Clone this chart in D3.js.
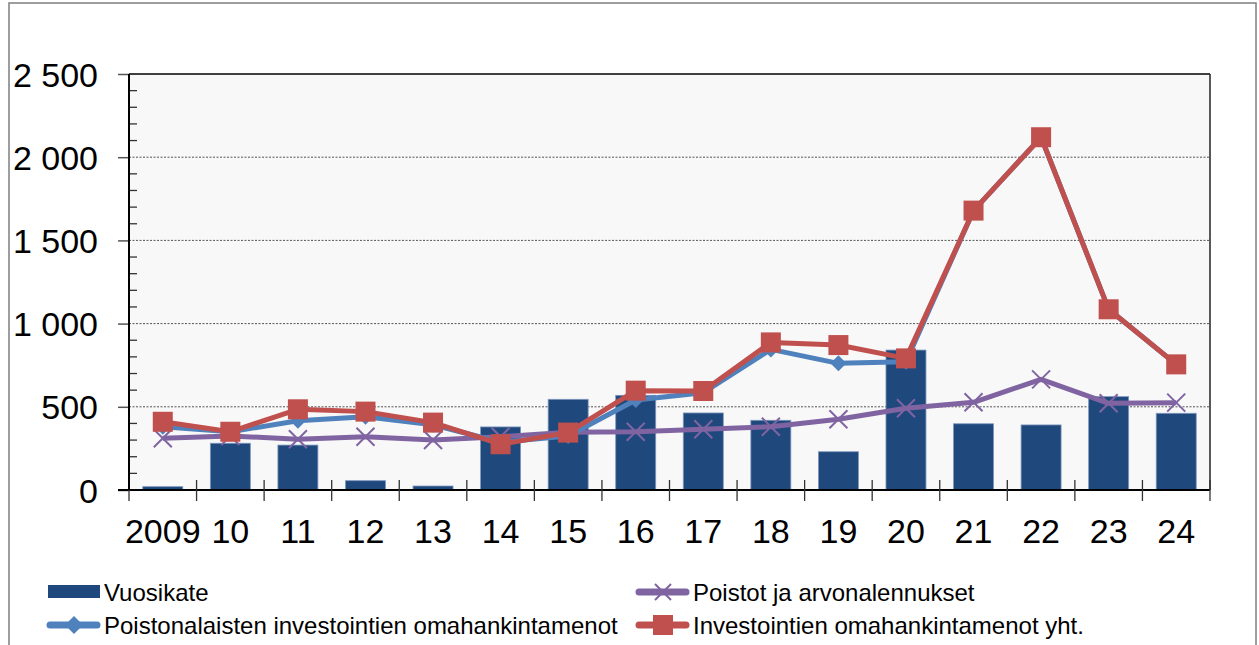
<!DOCTYPE html>
<html><head><meta charset="utf-8">
<script src="https://cdn.jsdelivr.net/npm/d3@7"></script>
<style>body{margin:0;background:#fff}svg{display:block}text{font-family:Arial,"Liberation Sans",sans-serif}</style>
</head><body>
<svg id="c" width="1259" height="645"></svg>
<script>
const categories = ["2009","10","11","12","13","14","15","16","17","18","19","20","21","22","23","24"];
const vuosikate = [20,281,270,56,24,379,545,569,463,419,230,841,398,391,561,461];
const poistot = [311,325,305,320,300,320,347,350,365,380,425,491,527,665,521,525];
const poistonalaiset = [380,350,416,440,392,287,325,541,585,845,761,771,1679,2120,1086,755];
const investoinnit = [410,350,485,471,405,275,345,597,595,887,871,791,1679,2120,1086,755];
const yTicks = [0,500,1000,1500,2000,2500];
const yTickLabels = ["0","500","1 000","1 500","2 000","2 500"];
const seriesNames = ["Vuosikate","Poistot ja arvonalennukset","Poistonalaisten investointien omahankintamenot","Investointien omahankintamenot yht."];

const svg = d3.select("#c");
const L = 129, R = 1210, T = 74, B = 490;
const x = d3.scaleBand().domain(categories).range([L, R]).paddingInner(0).paddingOuter(0);
const y = d3.scaleLinear().domain([0, 2500]).range([B, T]);
const cx = d => x(d) + x.bandwidth() / 2;

// outer border
svg.append("rect").attr("x", 9).attr("y", 3).attr("width", 1247).attr("height", 700)
  .attr("fill", "#fff").attr("stroke", "#7f7f7f").attr("stroke-width", 1.5);

// plot background
svg.append("rect").attr("x", L).attr("y", T).attr("width", R - L).attr("height", B - T).attr("fill", "#f8f8f8");

// gridlines
svg.append("g").selectAll("line").data(yTicks.filter(v => v > 0 && v < 2500)).join("line")
  .attr("x1", L).attr("x2", R).attr("y1", d => y(d)).attr("y2", d => y(d))
  .attr("stroke", "#555").attr("stroke-width", 1).attr("stroke-dasharray", "2,1.5");

// plot border top/right
svg.append("line").attr("x1", L).attr("x2", R).attr("y1", T).attr("y2", T).attr("stroke", "#000").attr("stroke-width", 1.5);
svg.append("line").attr("x1", R).attr("x2", R).attr("y1", T).attr("y2", B).attr("stroke", "#222").attr("stroke-width", 1.5);

// bars
const bw = 40;
svg.append("g").selectAll("rect").data(categories).join("rect")
  .attr("x", (d) => cx(d) - bw / 2).attr("width", bw)
  .attr("y", (d, i) => y(vuosikate[i])).attr("height", (d, i) => y(0) - y(vuosikate[i]))
  .attr("fill", "#1f497d").attr("stroke", "#7f97bd").attr("stroke-width", 0.8);

// y axis
const yAxis = d3.axisLeft(y).tickValues(yTicks).tickSize(11).tickFormat((d, i) => yTickLabels[i]);
const ya = svg.append("g").attr("transform", `translate(${L},0)`).call(yAxis);
ya.select(".domain").remove();
ya.selectAll(".tick line").attr("stroke", "#555").attr("stroke-width", 1.5);
ya.selectAll(".tick text").attr("x", -31).attr("dy", null).attr("dominant-baseline", "central")
  .attr("font-size", 34).attr("fill", "#000").attr("text-anchor", "end");
// minor ticks
const minor = d3.range(0, 2501, 100).filter(v => v % 500 !== 0);
svg.append("g").selectAll("line").data(minor).join("line")
  .attr("x1", L).attr("x2", L + 8).attr("y1", d => y(d)).attr("y2", d => y(d))
  .attr("stroke", "#333").attr("stroke-width", 1.3);
svg.append("line").attr("x1", L).attr("x2", L).attr("y1", T).attr("y2", B).attr("stroke", "#000").attr("stroke-width", 2);

// x axis
svg.append("line").attr("x1", L - 11).attr("x2", R).attr("y1", B).attr("y2", B).attr("stroke", "#000").attr("stroke-width", 2);
const bounds = categories.map(c => x(c)).concat([R]);
svg.append("g").selectAll("line").data(bounds).join("line")
  .attr("x1", d => d).attr("x2", d => d).attr("y1", (d, i) => i === 0 ? B : B - 10).attr("y2", B + 11)
  .attr("stroke", "#333").attr("stroke-width", 1.3);
svg.append("g").selectAll("text").data(categories).join("text")
  .attr("x", d => cx(d)).attr("y", 531)
  .attr("text-anchor", "middle").attr("dominant-baseline", "central")
  .attr("font-size", 34).attr("fill", "#000").text(d => d);

// lines
const line = d3.line().x((d, i) => cx(categories[i])).y(d => y(d));
function drawLine(vals, color) {
  svg.append("path").datum(vals).attr("d", line).attr("fill", "none")
    .attr("stroke", color).attr("stroke-width", 5).attr("stroke-linejoin", "round");
}
const purple = "#8064a2", blue = "#4f81bd", red = "#c0504d";

drawLine(poistot, purple);
svg.append("g").selectAll("path").data(poistot).join("path")
  .attr("transform", (d, i) => `translate(${cx(categories[i])},${y(d)})`)
  .attr("d", "M-9,-9L9,9M-9,9L9,-9").attr("stroke", purple).attr("stroke-width", 2);

drawLine(poistonalaiset, blue);
svg.append("g").selectAll("path").data(poistonalaiset).join("path")
  .attr("transform", (d, i) => `translate(${cx(categories[i])},${y(d)})`)
  .attr("d", "M0,-8L8,0L0,8L-8,0Z").attr("fill", blue);

drawLine(investoinnit, red);
svg.append("g").selectAll("rect").data(investoinnit).join("rect")
  .attr("x", (d, i) => cx(categories[i]) - 10).attr("y", d => y(d) - 10)
  .attr("width", 20).attr("height", 20).attr("fill", red);

// legend
const lg = svg.append("g").attr("font-size", 24).attr("fill", "#000");
lg.append("rect").attr("x", 48).attr("y", 585).attr("width", 52).attr("height", 13).attr("fill", "#1f497d");
lg.append("text").attr("x", 104).attr("y", 592).attr("dominant-baseline", "central").text(seriesNames[0]);
function legLine(x0, yc, color, kind, label) {
  lg.append("line").attr("x1", x0 + 3).attr("x2", x0 + 50).attr("y1", yc).attr("y2", yc)
    .attr("stroke", color).attr("stroke-width", 7).attr("stroke-linecap", "round");
  const mx = x0 + 27;
  if (kind === "x") lg.append("path").attr("transform", `translate(${mx},${yc})`).attr("d", "M-8,-8L8,8M-8,8L8,-8").attr("stroke", color).attr("stroke-width", 2);
  if (kind === "d") lg.append("path").attr("transform", `translate(${mx},${yc})`).attr("d", "M0,-9L9,0L0,9L-9,0Z").attr("fill", color);
  if (kind === "s") lg.append("rect").attr("x", mx - 10).attr("y", yc - 10).attr("width", 20).attr("height", 20).attr("fill", color);
  lg.append("text").attr("x", x0 + 57).attr("y", yc).attr("dominant-baseline", "central").text(label);
}
legLine(636, 592, purple, "x", seriesNames[1]);
legLine(47, 625, blue, "d", seriesNames[2]);
legLine(636, 625, red, "s", seriesNames[3]);
</script>
</body></html>
